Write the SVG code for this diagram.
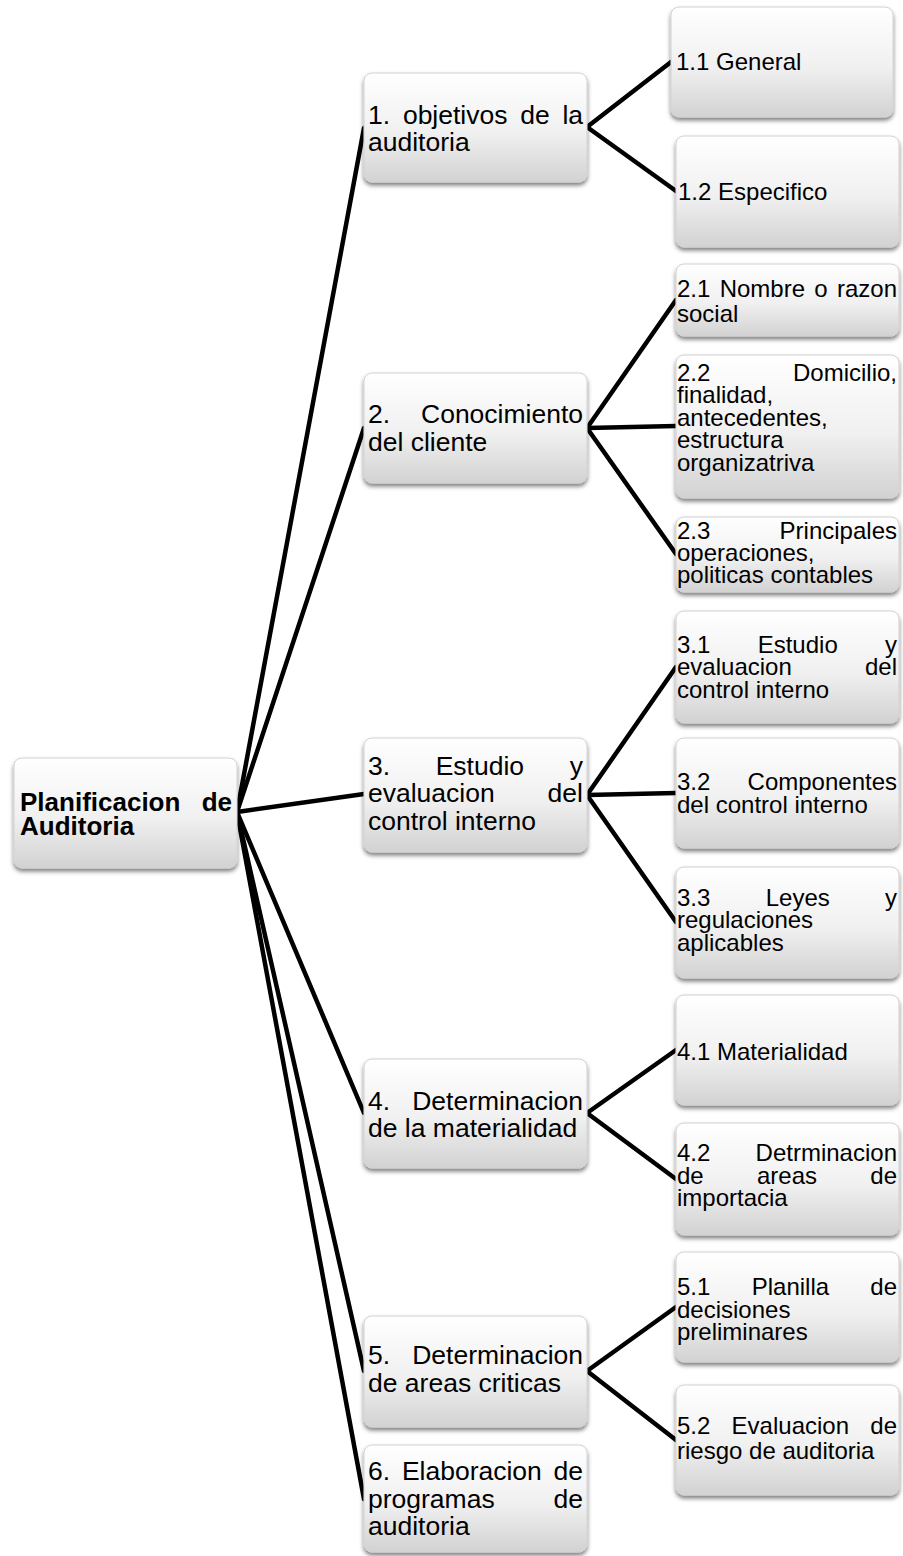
<svg xmlns="http://www.w3.org/2000/svg" width="903" height="1556" viewBox="0 0 903 1556">
<defs>
<linearGradient id="g" x1="0" y1="0" x2="0" y2="1">
<stop offset="0" stop-color="#ffffff"/>
<stop offset="0.55" stop-color="#f0f0f0"/>
<stop offset="1" stop-color="#d2d2d2"/>
</linearGradient>
<filter id="sh" x="-10%" y="-10%" width="120%" height="130%">
<feDropShadow dx="0" dy="3" stdDeviation="2" flood-color="#000" flood-opacity="0.5"/>
</filter>
</defs>
<style>
.b{fill:url(#g);stroke:#d2d2d2;stroke-width:1;filter:url(#sh)}
text{font-family:"Liberation Sans",Arial,sans-serif;fill:#000}
.t0{font-size:26px;font-weight:bold}
.t1{font-size:26.5px}
.t2{font-size:24px}
.c line{stroke:#000;stroke-width:4.5;stroke-linecap:round}
</style>
<rect width="903" height="1556" fill="#fff"/>
<g class="c" id="connectors">
<line x1="237" y1="812" x2="364" y2="128"/>
<line x1="237" y1="812" x2="364" y2="428"/>
<line x1="237" y1="812" x2="364" y2="794"/>
<line x1="237" y1="812" x2="364" y2="1113"/>
<line x1="237" y1="812" x2="364" y2="1371"/>
<line x1="237" y1="812" x2="364" y2="1499"/>
<line x1="587" y1="127" x2="671" y2="62"/>
<line x1="587" y1="127" x2="676" y2="191"/>
<line x1="587" y1="428" x2="676" y2="300"/>
<line x1="587" y1="428" x2="676" y2="426"/>
<line x1="587" y1="428" x2="676" y2="554"/>
<line x1="587" y1="795" x2="676" y2="667"/>
<line x1="587" y1="795" x2="676" y2="793"/>
<line x1="587" y1="795" x2="676" y2="922"/>
<line x1="587" y1="1113" x2="676" y2="1050"/>
<line x1="587" y1="1113" x2="676" y2="1179"/>
<line x1="587" y1="1371" x2="676" y2="1307"/>
<line x1="587" y1="1371" x2="676" y2="1440"/>
</g>
<g id="root">
<rect class="b" x="14" y="758" width="223" height="110" rx="8"/>
<text class="t0"><tspan x="20" y="811">Planificacion</tspan><tspan x="201.7" y="811">de</tspan><tspan x="20" y="835">Auditoria</tspan></text>
</g>
<g id="n1">
<rect class="b" x="364" y="73" width="223" height="109" rx="8"/>
<text class="t1"><tspan x="368" y="124">1.</tspan><tspan x="402.9" y="124">objetivos</tspan><tspan x="520.2" y="124">de</tspan><tspan x="562.4" y="124">la</tspan><tspan x="368" y="151">auditoria</tspan></text>
</g>
<g id="n2">
<rect class="b" x="364" y="373" width="223" height="110" rx="8"/>
<text class="t1"><tspan x="368" y="423">2.</tspan><tspan x="421" y="423">Conocimiento</tspan><tspan x="368" y="451">del cliente</tspan></text>
</g>
<g id="n3">
<rect class="b" x="364" y="738" width="223" height="114" rx="8"/>
<text class="t1"><tspan x="368" y="775">3.</tspan><tspan x="435.7" y="775">Estudio</tspan><tspan x="569.8" y="775">y</tspan><tspan x="368" y="802">evaluacion</tspan><tspan x="547.6" y="802">del</tspan><tspan x="368" y="830">control interno</tspan></text>
</g>
<g id="n4">
<rect class="b" x="364" y="1059" width="223" height="109" rx="8"/>
<text class="t1"><tspan x="368" y="1110">4.</tspan><tspan x="412.2" y="1110">Determinacion</tspan><tspan x="368" y="1137">de la materialidad</tspan></text>
</g>
<g id="n5">
<rect class="b" x="364" y="1316" width="223" height="111" rx="8"/>
<text class="t1"><tspan x="368" y="1364">5.</tspan><tspan x="412.2" y="1364">Determinacion</tspan><tspan x="368" y="1392">de areas criticas</tspan></text>
</g>
<g id="n6">
<rect class="b" x="364" y="1445" width="223" height="107" rx="8"/>
<text class="t1"><tspan x="368" y="1480">6.</tspan><tspan x="401.9" y="1480">Elaboracion</tspan><tspan x="553.5" y="1480">de</tspan><tspan x="368" y="1508">programas</tspan><tspan x="553.5" y="1508">de</tspan><tspan x="368" y="1535">auditoria</tspan></text>
</g>
<g id="n11">
<rect class="b" x="671" y="7" width="222" height="110" rx="8"/>
<text class="t2" x="676" y="70">1.1 General</text>
</g>
<g id="n12">
<rect class="b" x="676" y="136" width="223" height="111" rx="8"/>
<text class="t2" x="678" y="200">1.2 Especifico</text>
</g>
<g id="n21">
<rect class="b" x="676" y="264" width="223" height="72" rx="8"/>
<text class="t2"><tspan x="677" y="297">2.1</tspan><tspan x="719.7" y="297">Nombre</tspan><tspan x="814.3" y="297">o</tspan><tspan x="837" y="297">razon</tspan><tspan x="677" y="322">social</tspan></text>
</g>
<g id="n22">
<rect class="b" x="676" y="355" width="223" height="143" rx="8"/>
<text class="t2"><tspan x="677" y="380.5">2.2</tspan><tspan x="793" y="380.5">Domicilio,</tspan><tspan x="677" y="403">finalidad,</tspan><tspan x="677" y="425.5">antecedentes,</tspan><tspan x="677" y="448">estructura</tspan><tspan x="677" y="470.5">organizatriva</tspan></text>
</g>
<g id="n23">
<rect class="b" x="676" y="517" width="223" height="75" rx="8"/>
<text class="t2"><tspan x="677" y="539">2.3</tspan><tspan x="779.6" y="539">Principales</tspan><tspan x="677" y="561">operaciones,</tspan><tspan x="677" y="583">politicas contables</tspan></text>
</g>
<g id="n31">
<rect class="b" x="676" y="611" width="223" height="112" rx="8"/>
<text class="t2"><tspan x="677" y="652.5">3.1</tspan><tspan x="757.7" y="652.5">Estudio</tspan><tspan x="885" y="652.5">y</tspan><tspan x="677" y="675">evaluacion</tspan><tspan x="865" y="675">del</tspan><tspan x="677" y="697.5">control interno</tspan></text>
</g>
<g id="n32">
<rect class="b" x="676" y="738" width="223" height="110" rx="8"/>
<text class="t2"><tspan x="677" y="790">3.2</tspan><tspan x="747.6" y="790">Componentes</tspan><tspan x="677" y="813">del control interno</tspan></text>
</g>
<g id="n33">
<rect class="b" x="676" y="867" width="223" height="111" rx="8"/>
<text class="t2"><tspan x="677" y="905.5">3.3</tspan><tspan x="765.7" y="905.5">Leyes</tspan><tspan x="885" y="905.5">y</tspan><tspan x="677" y="928">regulaciones</tspan><tspan x="677" y="950.5">aplicables</tspan></text>
</g>
<g id="n41">
<rect class="b" x="676" y="995" width="223" height="110" rx="8"/>
<text class="t2" x="677" y="1060">4.1 Materialidad</text>
</g>
<g id="n42">
<rect class="b" x="676" y="1123" width="223" height="112" rx="8"/>
<text class="t2"><tspan x="677" y="1161">4.2</tspan><tspan x="755.6" y="1161">Detrminacion</tspan><tspan x="677" y="1183.5">de</tspan><tspan x="757" y="1183.5">areas</tspan><tspan x="870.3" y="1183.5">de</tspan><tspan x="677" y="1206">importacia</tspan></text>
</g>
<g id="n51">
<rect class="b" x="676" y="1252" width="223" height="110" rx="8"/>
<text class="t2"><tspan x="677" y="1295">5.1</tspan><tspan x="751.7" y="1295">Planilla</tspan><tspan x="870.3" y="1295">de</tspan><tspan x="677" y="1317.5">decisiones</tspan><tspan x="677" y="1340">preliminares</tspan></text>
</g>
<g id="n52">
<rect class="b" x="676" y="1385" width="223" height="110" rx="8"/>
<text class="t2"><tspan x="677" y="1434">5.2</tspan><tspan x="731.6" y="1434">Evaluacion</tspan><tspan x="870.3" y="1434">de</tspan><tspan x="677" y="1459">riesgo de auditoria</tspan></text>
</g>
</svg>
